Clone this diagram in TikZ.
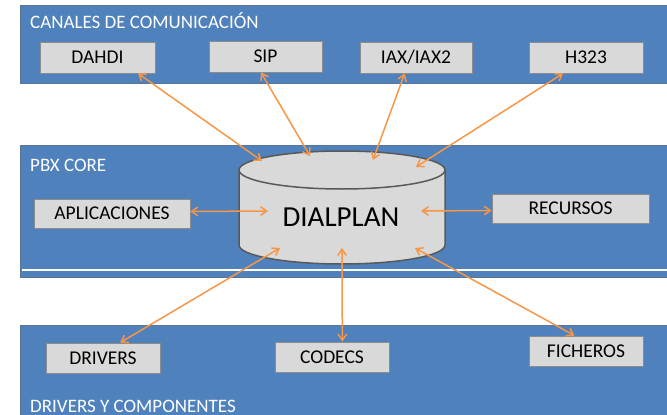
\documentclass[tikz,border=0pt]{standalone}
\usepackage{fontspec}
\setmainfont{Carlito}
\usetikzlibrary{arrows.meta,calc}
\definecolor{bandblue}{HTML}{4F81BD}
\definecolor{bandedge}{HTML}{5B7596}
\definecolor{boxgray}{HTML}{D9D9D9}
\definecolor{boxedge}{HTML}{8C8C8C}
\definecolor{cyledge}{HTML}{595959}
\definecolor{linkorange}{HTML}{F79646}
\tikzset{
  band/.style={fill=bandblue, draw=bandedge, line width=0.8pt},
  bandtitle/.style={anchor=base west, text=white, font=\fontsize{19}{21}\selectfont, inner sep=0pt},
  module/.style={fill=boxgray, draw=boxedge, line width=0.8pt, minimum height=30pt,
                 inner sep=0pt, font=\fontsize{19.5}{21}\selectfont},
  link/.style={draw=linkorange, line width=1.5pt,
               {Straight Barb[angle=70:7.5pt]}-{Straight Barb[angle=70:7.5pt]}},
}
\begin{document}
\begin{tikzpicture}[x=1pt, y=-1pt]
\useasboundingbox (0,0) rectangle (667,415);

% --- three layer bands ---
\draw[band] (20,5) rectangle (672,83);
\draw[band] (20,145) rectangle (672,277);
\draw[white, line width=1.2pt] (22,270) -- (672,270);
\draw[band] (20,325) rectangle (672,420);

\node[bandtitle] (tcanales) at (30,28) {CANALES DE COMUNICACIÓN};
\node[bandtitle] (tcore) at (30,171) {PBX CORE};
\node[bandtitle] (tdrivers) at (30,412) {DRIVERS Y COMPONENTES};

% --- communication channels ---
\node[module, minimum width=115pt, minimum height=31pt] (dahdi) at (97.5,57.5) {DAHDI};
\node[module, minimum width=113pt, minimum height=31pt] (sip) at (265.5,56.5) {SIP};
\node[module, minimum width=112pt, minimum height=31pt] (iax) at (416,57.5) {IAX/IAX2};
\node[module, minimum width=114pt, minimum height=31pt] (h323) at (586,57.5) {H323};

% --- core side modules ---
\node[module, minimum width=156pt, minimum height=29pt] (aplic) at (112,213.5) {APLICACIONES};
\node[module, minimum width=157pt, minimum height=29pt] (recursos) at (570.5,208.5) {RECURSOS};

% --- drivers and components ---
\node[module, minimum width=114pt] (drivers) at (103,358) {DRIVERS};
\node[module, minimum width=114pt] (codecs) at (332,357) {CODECS};
\node[module, minimum width=114pt] (ficheros) at (586,351) {FICHEROS};

% --- dialplan cylinder (y axis points down) ---
\draw[fill=boxgray, draw=cyledge, line width=1.5pt]
  (239,170) -- (239,245) arc[start angle=180, end angle=0, x radius=103, y radius=19]
  -- (445,170) arc[start angle=0, end angle=-180, x radius=103, y radius=19] -- cycle;
\draw[draw=cyledge, line width=1.5pt]
  (239,170) arc[start angle=180, end angle=0, x radius=103, y radius=19];
\node[font=\fontsize{29}{32}\selectfont, inner sep=0pt] (dialplan) at (341,217) {DIALPLAN};

% attachment points on the cylinder
\coordinate (pdahdi) at (262,161);
\coordinate (psip) at (310,156);
\coordinate (piax) at (373,160);
\coordinate (ph323) at (416,167);
\coordinate (paplic) at (268,211);
\coordinate (precursos) at (421,211);
\coordinate (pdrivers) at (280,248);
\coordinate (pcodecs) at (342,248);
\coordinate (pficheros) at (415,248);

% --- links ---
\draw[link] ($(dahdi.south west)!0.85!(dahdi.south east)$) -- (pdahdi);
\draw[link] ($(sip.south west)!0.46!(sip.south east)$) -- (psip);
\draw[link] ($(iax.south west)!0.40!(iax.south east)$) -- (piax);
\draw[link] ($(h323.south west)!0.30!(h323.south east)$) -- (ph323);
\draw[link] ($(aplic.east)+(0,-2)$) -- (paplic);
\draw[link] ($(recursos.west)+(0,2)$) -- (precursos);
\draw[link] (pdrivers) -- ($(drivers.north west)!0.65!(drivers.north east)$);
\draw[link] (pcodecs) -- ($(codecs.north west)!0.59!(codecs.north east)$);
\draw[link] (pficheros) -- ($(ficheros.north west)!0.40!(ficheros.north east)$);
\end{tikzpicture}
\end{document}
